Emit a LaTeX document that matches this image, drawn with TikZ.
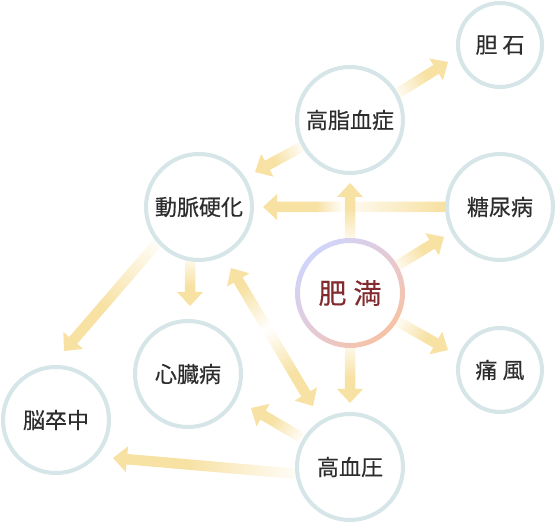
\documentclass[tikz,border=0pt]{standalone}
\usepackage{fontspec}
\newfontfamily\jp[FakeBold=0.35]{Noto Sans CJK JP}
\usetikzlibrary{calc}
\definecolor{ay}{RGB}{247,225,163}
\colorlet{ayp}{ay!6!white}
\colorlet{ayq}{ay!20!white}
\definecolor{cring}{RGB}{214,229,231}
\definecolor{txt}{RGB}{45,45,45}
\definecolor{obred}{RGB}{130,42,45}
\definecolor{rblue}{RGB}{208,212,250}
\definecolor{rpink}{RGB}{228,202,214}
\definecolor{rpeach}{RGB}{247,194,164}
\pgfdeclarehorizontalshading{fadeA}{100bp}{color(0bp)=(ayp); color(25bp)=(ayp); color(55bp)=(ay); color(100bp)=(ay)}
\pgfdeclarehorizontalshading{fadeD}{100bp}{color(0bp)=(ay); color(32bp)=(ay); color(47bp)=(white); color(63bp)=(ay); color(100bp)=(ay)}
\pgfdeclarehorizontalshading{fadeH}{100bp}{color(0bp)=(ay); color(28bp)=(ay); color(51bp)=(ayq); color(53.5bp)=(white); color(61bp)=(ay); color(100bp)=(ay)}
\pgfdeclarehorizontalshading{ringsh}{100bp}{color(0bp)=(rblue); color(25bp)=(rblue); color(50bp)=(rpink); color(75bp)=(rpeach); color(100bp)=(rpeach)}
\pgfdeclarelayer{arrows}
\pgfsetlayers{arrows,main}
\newcommand\garrowgeom[2]{%
  \pgfmathanglebetweenpoints{\pgfpointanchor{#1}{center}}{\pgfpointanchor{#2}{center}}%
  \edef\gang{\pgfmathresult}%
  \pgfpointdiff{\pgfpointanchor{#1}{center}}{\pgfpointanchor{#2}{center}}%
  \pgfgetlastxy{\gdx}{\gdy}%
  \pgfmathveclen{\gdx}{\gdy}%
  \edef\glen{\pgfmathresult}%
  \pgfmathsetmacro\gbase{\glen-14}}
\newcommand\garrow[3]{%
  \garrowgeom{#1}{#2}%
  \begin{scope}[transform canvas={shift={(#1)},rotate=\gang}]
    \shade[shading=#3] (0,-5.25) -- (\gbase,-5.25) -- (\gbase,-13) -- (\glen,0) -- (\gbase,13) -- (\gbase,5.25) -- (0,5.25) -- cycle;
  \end{scope}}
\newcommand\gdarrow[3]{%
  \garrowgeom{#1}{#2}%
  \begin{scope}[transform canvas={shift={(#1)},rotate=\gang}]
    \shade[shading=#3] (0,0) -- (14,-13) -- (14,-5.25) -- (\gbase,-5.25) -- (\gbase,-13) -- (\glen,0) -- (\gbase,13) -- (\gbase,5.25) -- (14,5.25) -- (14,13) -- cycle;
  \end{scope}}
\tikzset{
  dis/.style={circle, draw=cring, line width=4pt, fill=white, minimum size=106pt, inner sep=0pt, text=txt, font=\jp\fontsize{22}{26}\selectfont},
  dissm/.style={dis, minimum size=84pt},
  obes/.style={circle, fill=white, minimum size=105pt, inner sep=0pt, text=obred, font=\jp\fontsize{28}{32}\selectfont},
}
\begin{document}
\begin{tikzpicture}[x=1pt,y=1pt]
\useasboundingbox (0,0) rectangle (556,524);
% nodes
\node[obes] (ob) at (350,231) {肥\hspace{7pt}満};
\node[dis] (hl) at (350,404) {高脂血症};
\node[dissm] (gs) at (500,479) {胆\hspace{5pt}石};
\node[dis] (ds) at (500,317) {糖尿病};
\node[dis] (as) at (199,317) {動脈硬化};
\node[dis] (hd) at (188,150) {心臓病};
\node[dis] (st) at (56,104) {脳卒中};
\node[dis] (hp) at (350,57) {高血圧};
\node[dissm] (gt) at (500,154) {痛\hspace{5pt}風};
\begin{scope}[transform canvas={shift={(ob)},rotate=-45}]
  \shade[shading=ringsh, even odd rule] (0,0) circle[radius=55] (0,0) circle[radius=50];
\end{scope}
% connector end points
\coordinate (a1s) at ($(ob)+(0,48)$);      \coordinate (a1e) at ($(hl)+(0,-63)$);
\coordinate (a2s) at ($(ds)+(-48,0)$);     \coordinate (a2e) at ($(as)+(64,0)$);
\coordinate (a3s) at ($(hl)+(-47,-26)$);   \coordinate (a3e) at ($(as)+(56,35)$);
\coordinate (a4s) at ($(hl)+(45,25)$);     \coordinate (a4e) at ($(gs)+(-52,-17)$);
\coordinate (a5s) at ($(as)+(-9,-48)$);    \coordinate (a5e) at ($(hd)+(2,68)$);
\coordinate (a6s) at ($(as)+(-40,-34)$);   \coordinate (a6e) at ($(st)+(8,69)$);
\coordinate (a7s) at ($(as)+(32,-61)$);    \coordinate (a7e) at ($(hp)+(-37,61)$);
\coordinate (a8s) at ($(hp)+(-48,29)$);    \coordinate (a8e) at ($(hd)+(63,-34)$);
\coordinate (a9s) at ($(hp)+(-52,-7)$);    \coordinate (a9e) at ($(st)+(57,-38)$);
\coordinate (a10s) at ($(ob)+(43,25)$);    \coordinate (a10e) at ($(ds)+(-56,-30)$);
\coordinate (a11s) at ($(ob)+(45,-27)$);   \coordinate (a11e) at ($(gt)+(-52,20)$);
\coordinate (a12s) at ($(ob)+(0,-47)$);    \coordinate (a12e) at ($(hp)+(0,64)$);
\begin{pgfonlayer}{arrows}
  \garrow{a2s}{a2e}{fadeH}
  \garrow{a1s}{a1e}{fadeA}
  \garrow{a3s}{a3e}{fadeA}
  \garrow{a4s}{a4e}{fadeA}
  \garrow{a5s}{a5e}{fadeA}
  \garrow{a6s}{a6e}{fadeA}
  \gdarrow{a7s}{a7e}{fadeD}
  \garrow{a8s}{a8e}{fadeA}
  \garrow{a9s}{a9e}{fadeA}
  \garrow{a10s}{a10e}{fadeA}
  \garrow{a11s}{a11e}{fadeA}
  \garrow{a12s}{a12e}{fadeA}
\end{pgfonlayer}
\end{tikzpicture}
\end{document}
